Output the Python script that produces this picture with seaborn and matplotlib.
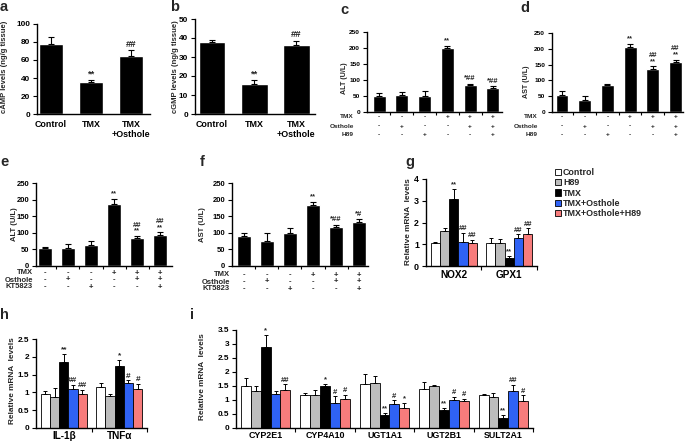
import numpy as np
import pandas as pd
import matplotlib
matplotlib.use("Agg")
import matplotlib.pyplot as plt
import matplotlib.transforms as mtransforms
from matplotlib.patches import Patch
from matplotlib.container import BarContainer
from matplotlib import font_manager
import seaborn as sns

# ---------------- data ----------------
ab_groups = ["Control", "TMX", "TMX\n+Osthole"]
a_vals = [78, 35.5, 65]
a_errs = [8, 2.5, 6]
a_marks = ["", "**", "##"]
b_vals = [37.8, 15.9, 36.2]
b_errs = [1.2, 2.0, 2.4]
b_marks = ["", "**", "##"]

row_tmx = ["-", "-", "-", "+", "+", "+"]
row_osthole = ["-", "+", "-", "-", "+", "+"]
row_inhib = ["-", "-", "+", "-", "-", "+"]

c_vals = [50, 52, 49, 199, 85, 76]
c_errs = [10, 12, 16, 8, 3, 4]
c_marks = ["", "", "", "**", "*##", "*##"]
d_vals = [54, 39, 85, 207, 137, 157]
d_errs = [11, 11, 5, 8, 7, 9]
d_marks = ["", "", "", "**", "##\n**", "##\n**"]
e_vals = [53, 53, 63, 188, 84, 93]
e_errs = [3, 12, 12, 14, 6, 9]
e_marks = ["", "", "", "**", "##\n**", "##\n**"]
f_vals = [90, 75, 99, 184, 117, 132]
f_errs = [9, 24, 15, 9, 7, 9]
f_marks = ["", "", "", "**", "*##", "*#"]

mrna_groups = ["Control", "H89", "TMX", "TMX+Osthole", "TMX+Osthole+H89"]
mrna_colors = ["#ffffff", "#bdbdbd", "#000000", "#2f62f5", "#f77c7c"]

g_genes = ["NOX2", "GPX1"]
g_vals = [[1.04, 1.60, 3.07, 1.11, 1.06], [1.07, 1.04, 0.39, 1.27, 1.47]]
g_errs = [[0.08, 0.17, 0.47, 0.43, 0.15], [0.24, 0.20, 0.06, 0.18, 0.26]]
g_marks = [["", "", "**", "##", "##"], ["", "", "**", "##", "##"]]

h_genes = ["IL-1β", "TNFα"]
h_vals = [[0.95, 0.86, 1.86, 1.09, 0.96], [1.16, 0.91, 1.74, 1.27, 1.09]]
h_errs = [[0.10, 0.25, 0.22, 0.12, 0.12], [0.11, 0.04, 0.17, 0.07, 0.15]]
h_marks = [["", "", "**", "##", "##"], ["", "", "*", "#", "#"]]

i_genes = ["CYP2E1", "CYP4A10", "UGT1A1", "UGT2B1", "SULT2A1"]
i_vals = [[1.49, 1.33, 2.90, 1.21, 1.37],
          [1.17, 1.19, 1.49, 0.91, 1.02],
          [1.56, 1.62, 0.45, 0.84, 0.73],
          [1.41, 1.49, 0.63, 0.99, 0.96],
          [1.17, 1.09, 0.37, 1.33, 0.97]]
i_errs = [[0.31, 0.16, 0.42, 0.10, 0.19],
          [0.08, 0.18, 0.07, 0.22, 0.17],
          [0.38, 0.25, 0.09, 0.15, 0.17],
          [0.24, 0.06, 0.10, 0.12, 0.09],
          [0.06, 0.16, 0.08, 0.20, 0.20]]
i_marks = [["", "", "*", "", "##"],
           ["", "", "*", "#", "#"],
           ["", "", "**", "#", "*"],
           ["", "", "**", "#", "#"],
           ["", "", "**", "##", "#"]]

# ---------------- style ----------------
sns.set_style("ticks")
avail = {f.name for f in font_manager.fontManager.ttflist}
fams = [f for f in ["Liberation Sans Narrow", "Liberation Sans"] if f in avail] + ["DejaVu Sans"]
NARROW = fams[0] == "Liberation Sans Narrow"
k = 1.0 if NARROW else 0.85  # shrink factor when no narrow face exists
plt.rcParams["font.family"] = fams
plt.rcParams["font.weight"] = "bold"
plt.rcParams["axes.labelweight"] = "bold"

W, H = 685, 446
fig = plt.figure(figsize=(W / 100, H / 100), dpi=100)


def px_ax(x0, x1, ytop, ybot):
    return fig.add_axes([x0 / W, 1 - ybot / H, (x1 - x0) / W, (ybot - ytop) / H])


def style(ax, ymax, step, fs):
    ax.set_ylim(0, ymax)
    ticks = np.arange(0, ymax + step / 2, step)
    ax.set_yticks(ticks)
    ax.set_yticklabels([f"{t:g}" for t in ticks])
    for s in ["top", "right"]:
        ax.spines[s].set_visible(False)
    for s in ["left", "bottom"]:
        ax.spines[s].set_linewidth(1.0)
        ax.spines[s].set_color("black")
    ax.tick_params(axis="y", direction="out", length=3, width=0.8, labelsize=fs * k, pad=2, colors="black")
    ax.set_xlabel("")
    ax.set_ylabel("")


def ftext(xp, yp, s, fontsize, **kw):
    fig.text(xp / W, 1 - yp / H, s, fontsize=fontsize * k, **kw)


def bar_containers(ax):
    return [c for c in ax.containers if isinstance(c, BarContainer)]


def simple_panel(ax, cats, vals, errs, marks, width, mfs, cap):
    df = pd.DataFrame({"cat": cats, "val": vals})
    sns.barplot(data=df, x="cat", y="val", order=cats, color="black", saturation=1,
                width=width, errorbar=None, ax=ax)
    cont = bar_containers(ax)[0]
    xs = [b.get_x() + b.get_width() / 2 for b in cont]
    hs = [b.get_height() for b in cont]
    ax.errorbar(xs, hs, yerr=[np.zeros(len(errs)), errs], fmt="none", ecolor="black",
                elinewidth=0.8, capsize=cap, capthick=0.8)
    for x, h, e, m in zip(xs, hs, errs, marks):
        if m:
            ax.annotate(m, (x, h + e), xytext=(0, 1), textcoords="offset points",
                        ha="center", va="bottom", fontsize=mfs * k, linespacing=0.8)


def table_panel(ax, vals, errs, marks, rows, row_names, row_off, lab_dx, xlim, tfs, mfs):
    cats = ["".join(t) for t in zip(*rows)]
    simple_panel(ax, cats, vals, errs, marks, 0.57, mfs, 2)
    ax.set_xlim(*xlim)
    ax.set_xticks(range(len(vals)))
    ax.set_xticklabels([""] * len(vals))
    ax.tick_params(axis="x", which="major", length=0)
    ax.set_xticks([j + 0.5 for j in range(len(vals) - 1)], minor=True)
    ax.tick_params(axis="x", which="minor", direction="out", length=2.5, width=0.8, colors="black")
    for row, name, off in zip(rows, row_names, row_off):
        tr = mtransforms.offset_copy(ax.get_xaxis_transform(), fig=fig, y=-off * 0.72, units="points")
        for j, s in enumerate(row):
            ax.text(j, 0, s, transform=tr, ha="center", va="center", fontsize=tfs * k)
        tl = mtransforms.offset_copy(ax.transAxes, fig=fig, x=lab_dx * 0.72, y=-off * 0.72, units="points")
        ax.text(0, 0, name, transform=tl, ha="right", va="center", fontsize=tfs * k)


def grouped_panel(ax, genes, vals, errs, marks, mfs, gfs, gpad):
    recs = []
    for gi, gname in enumerate(genes):
        for j, grp in enumerate(mrna_groups):
            recs.append({"gene": gname, "group": grp, "val": vals[gi][j]})
    df = pd.DataFrame(recs)
    sns.barplot(data=df, x="gene", y="val", hue="group", order=genes, hue_order=mrna_groups,
                palette=mrna_colors, saturation=1, width=0.83, errorbar=None,
                edgecolor="black", linewidth=0.6, legend=False, ax=ax)
    conts = bar_containers(ax)
    for j, cont in enumerate(conts):
        for b in cont:
            x = b.get_x() + b.get_width() / 2
            gi = int(round(x))
            h = b.get_height()
            e = errs[gi][j]
            ax.errorbar([x], [h], yerr=[[0], [e]], fmt="none", ecolor="black",
                        elinewidth=0.7, capsize=1.6, capthick=0.7)
            m = marks[gi][j]
            if m:
                ax.annotate(m, (x, h + e), xytext=(0, 0.5), textcoords="offset points",
                            ha="center", va="bottom", fontsize=mfs * k)
    ax.set_xlim(-0.5, len(genes) - 0.5)
    ax.tick_params(axis="x", which="major", length=0, labelsize=gfs * k, pad=gpad, colors="black")
    ax.set_xticks([j + 0.5 for j in range(len(genes))], minor=True)
    ax.tick_params(axis="x", which="minor", direction="out", length=3, width=0.8, colors="black")


# ---------------- panel a ----------------
ax = px_ax(37, 150, 24, 114)
simple_panel(ax, ab_groups, a_vals, a_errs, a_marks, 0.6, 8, 2.5)
ax.set_xlim(-0.35, 2.475)
style(ax, 100, 20, 7)
ax.tick_params(axis="x", length=0, labelsize=7.5 * k, pad=4, colors="black")
ftext(5, 67, "cAMP levels (ng/g tissue)", 6.5, rotation=90, ha="center", va="center")

# ---------------- panel b ----------------
ax = px_ax(195, 315, 19, 114)
simple_panel(ax, ab_groups, b_vals, b_errs, b_marks, 0.64, 8, 2.5)
ax.set_xlim(-0.405, 2.45)
style(ax, 50, 10, 7)
ax.tick_params(axis="x", length=0, labelsize=7.5 * k, pad=4, colors="black")
ftext(175, 67, "cGMP levels (ng/g tissue)", 6.5, rotation=90, ha="center", va="center")

# ---------------- panel c ----------------
ax = px_ax(367, 502, 32, 112)
table_panel(ax, c_vals, c_errs, c_marks, [row_tmx, row_osthole, row_inhib],
            ["TMX", "Osthole", "H89"], [5, 14, 23], -13, (-0.53, 5.4), 5.5, 6.5)
style(ax, 250, 50, 5.5)
ftext(344, 78, "ALT (U/L)", 6, rotation=90, ha="center", va="center")

# ---------------- panel d ----------------
ax = px_ax(552, 683, 33, 112)
table_panel(ax, d_vals, d_errs, d_marks, [row_tmx, row_osthole, row_inhib],
            ["TMX", "Osthole", "H89"], [5, 14, 23], -14, (-0.44, 5.33), 5.5, 6.5)
style(ax, 250, 50, 5.5)
ftext(526, 82, "AST (U/L)", 6, rotation=90, ha="center", va="center")

# ---------------- panel e ----------------
ax = px_ax(36, 172, 183, 266)
table_panel(ax, e_vals, e_errs, e_marks, [row_tmx, row_osthole, row_inhib],
            ["TMX", "Osthole", "KT5823"], [7, 14, 21], -3, (-0.39, 5.52), 6.5, 6.5)
style(ax, 250, 50, 6.5)
ftext(14, 224, "ALT (U/L)", 6.5, rotation=90, ha="center", va="center")

# ---------------- panel f ----------------
ax = px_ax(232, 368, 183, 266)
table_panel(ax, f_vals, f_errs, f_marks, [row_tmx, row_osthole, row_inhib],
            ["TMX", "Osthole", "KT5823"], [9, 16, 23], -2, (-0.52, 5.39), 6.5, 6.5)
style(ax, 250, 50, 6.5)
ftext(203, 225, "AST (U/L)", 6.5, rotation=90, ha="center", va="center")

# ---------------- panel g ----------------
ax = px_ax(426, 537, 179, 266)
grouped_panel(ax, g_genes, g_vals, g_errs, g_marks, 6.5, 8.5, 3)
style(ax, 4, 1, 7.5)
ftext(408, 222, "Relative mRNA  levels", 7, rotation=90, ha="center", va="center")

handles = [Patch(facecolor=c, edgecolor="black", linewidth=0.6) for c in mrna_colors]
fig.legend(handles, mrna_groups, loc="upper left", bbox_to_anchor=(555 / W, 1 - 168 / H),
           frameon=False, fontsize=7.5 * k, handlelength=0.7, handleheight=0.7,
           handletextpad=0.2, labelspacing=0.15, borderaxespad=0, borderpad=0)

# ---------------- panel h ----------------
ax = px_ax(36, 147, 339, 428)
grouped_panel(ax, h_genes, h_vals, h_errs, h_marks, 7, 8.5, 2.5)
style(ax, 2.5, 0.5, 7)
ftext(13, 381, "Relative mRNA  levels", 7, rotation=90, ha="center", va="center")

# ---------------- panel i ----------------
ax = px_ax(236, 533, 330, 428)
grouped_panel(ax, i_genes, i_vals, i_errs, i_marks, 6.5, 7.5, 2.5)
style(ax, 3.5, 0.5, 7)
ftext(203, 377, "Relative mRNA  levels", 7, rotation=90, ha="center", va="center")

# ---------------- panel letters ----------------
for lx, ly, s in [(0, 0, "a"), (170, 0, "b"), (340, 3, "c"), (520, 1, "d"),
                  (0, 155, "e"), (200, 155, "f"), (405, 155, "g"),
                  (0, 308, "h"), (190, 308, "i")]:
    fig.text(lx / W, 1 - ly / H, s, ha="left", va="top", fontsize=10.5, fontweight="bold",
             family=["Liberation Sans", "DejaVu Sans"])

fig.savefig("out.png", dpi=100)
